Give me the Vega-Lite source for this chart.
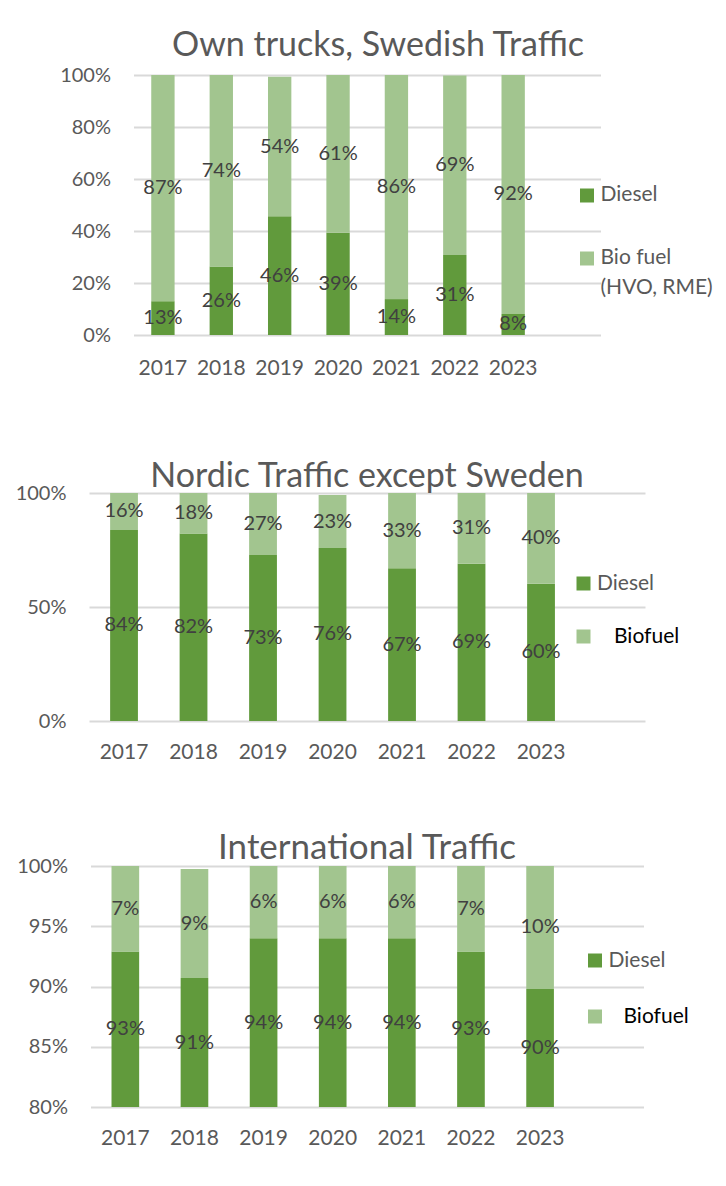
{
  "$schema": "https://vega.github.io/schema/vega-lite/v6.json",
  "background": "white",
  "padding": {"left": 15, "top": 29, "right": 5, "bottom": 5},
  "config": {
    "font": "Lato",
    "view": {"stroke": null},
    "title": {"fontSize": 34, "fontWeight": "normal", "color": "#595959", "font": "Lato", "anchor": "middle"},
    "axis": {"labelFont": "Lato", "labelFontSize": 20, "labelColor": "#595959", "domain": false, "ticks": false, "title": null},
    "axisY": {"grid": true, "gridColor": "#D9D9D9", "gridWidth": 2, "labelPadding": 23, "format": ".0%"},
    "axisX": {"grid": false, "labelAngle": 0, "labelPadding": 20, "labelFontSize": 21},
    "legend": {"title": null, "orient": "none", "symbolType": "square", "symbolSize": 196, "symbolStrokeWidth": 0, "labelFont": "Lato", "labelFontSize": 21, "labelColor": "#595959", "labelOffset": 3}
  },
  "resolve": {"scale": {"color": "independent", "y": "independent", "x": "independent"}, "legend": {"color": "independent"}},
  "datasets": {
    "fuel": [
      {"panel": "swe", "year": "2017", "fuel": "Diesel", "share": 0.13},
      {"panel": "swe", "year": "2017", "fuel": "Bio fuel (HVO, RME)", "share": 0.87},
      {"panel": "swe", "year": "2018", "fuel": "Diesel", "share": 0.263},
      {"panel": "swe", "year": "2018", "fuel": "Bio fuel (HVO, RME)", "share": 0.737},
      {"panel": "swe", "year": "2019", "fuel": "Diesel", "share": 0.457},
      {"panel": "swe", "year": "2019", "fuel": "Bio fuel (HVO, RME)", "share": 0.536},
      {"panel": "swe", "year": "2020", "fuel": "Diesel", "share": 0.393},
      {"panel": "swe", "year": "2020", "fuel": "Bio fuel (HVO, RME)", "share": 0.607},
      {"panel": "swe", "year": "2021", "fuel": "Diesel", "share": 0.138},
      {"panel": "swe", "year": "2021", "fuel": "Bio fuel (HVO, RME)", "share": 0.862},
      {"panel": "swe", "year": "2022", "fuel": "Diesel", "share": 0.308},
      {"panel": "swe", "year": "2022", "fuel": "Bio fuel (HVO, RME)", "share": 0.69},
      {"panel": "swe", "year": "2023", "fuel": "Diesel", "share": 0.081},
      {"panel": "swe", "year": "2023", "fuel": "Bio fuel (HVO, RME)", "share": 0.919},
      {"panel": "nordic", "year": "2017", "fuel": "Diesel", "share": 0.838},
      {"panel": "nordic", "year": "2017", "fuel": "Biofuel", "share": 0.162},
      {"panel": "nordic", "year": "2018", "fuel": "Diesel", "share": 0.822},
      {"panel": "nordic", "year": "2018", "fuel": "Biofuel", "share": 0.178},
      {"panel": "nordic", "year": "2019", "fuel": "Diesel", "share": 0.728},
      {"panel": "nordic", "year": "2019", "fuel": "Biofuel", "share": 0.272},
      {"panel": "nordic", "year": "2020", "fuel": "Diesel", "share": 0.759},
      {"panel": "nordic", "year": "2020", "fuel": "Biofuel", "share": 0.232},
      {"panel": "nordic", "year": "2021", "fuel": "Diesel", "share": 0.67},
      {"panel": "nordic", "year": "2021", "fuel": "Biofuel", "share": 0.33},
      {"panel": "nordic", "year": "2022", "fuel": "Diesel", "share": 0.69},
      {"panel": "nordic", "year": "2022", "fuel": "Biofuel", "share": 0.31},
      {"panel": "nordic", "year": "2023", "fuel": "Diesel", "share": 0.602},
      {"panel": "nordic", "year": "2023", "fuel": "Biofuel", "share": 0.398},
      {"panel": "intl", "year": "2017", "fuel": "Diesel", "share": 0.929},
      {"panel": "intl", "year": "2017", "fuel": "Biofuel", "share": 0.071},
      {"panel": "intl", "year": "2018", "fuel": "Diesel", "share": 0.907},
      {"panel": "intl", "year": "2018", "fuel": "Biofuel", "share": 0.0905},
      {"panel": "intl", "year": "2019", "fuel": "Diesel", "share": 0.94},
      {"panel": "intl", "year": "2019", "fuel": "Biofuel", "share": 0.06},
      {"panel": "intl", "year": "2020", "fuel": "Diesel", "share": 0.94},
      {"panel": "intl", "year": "2020", "fuel": "Biofuel", "share": 0.06},
      {"panel": "intl", "year": "2021", "fuel": "Diesel", "share": 0.94},
      {"panel": "intl", "year": "2021", "fuel": "Biofuel", "share": 0.06},
      {"panel": "intl", "year": "2022", "fuel": "Diesel", "share": 0.929},
      {"panel": "intl", "year": "2022", "fuel": "Biofuel", "share": 0.071},
      {"panel": "intl", "year": "2023", "fuel": "Diesel", "share": 0.898},
      {"panel": "intl", "year": "2023", "fuel": "Biofuel", "share": 0.102}
    ]
  },
  "bounds": "flush",
  "center": true,
  "spacing": 145,
  "vconcat": [
    {
      "title": {"text": "Own trucks, Swedish Traffic", "dx": 11, "offset": 2},
      "width": 467,
      "height": 273,
      "data": {"name": "fuel"},
      "transform": [
        {"filter": "datum.panel == 'swe'"},
        {"stack": "share", "groupby": ["year"], "sort": [{"field": "fuel", "order": "descending"}], "as": ["lo", "hi"]},
        {"calculate": "(datum.lo + datum.hi) / 2", "as": "mid"}
      ],
      "encoding": {
        "x": {"field": "year", "type": "ordinal", "scale": {"paddingInner": 0.6, "paddingOuter": 0.8, "align": 0.19}, "axis": {"labelPadding": 9}}
      },
      "layer": [
        {
          "mark": {"type": "bar"},
          "encoding": {
            "y": {"field": "lo", "type": "quantitative", "scale": {"domain": [-0.05, 1], "nice": false, "zero": false}, "axis": {"values": [0, 0.2, 0.4, 0.6, 0.8, 1]}},
            "y2": {"field": "hi"},
            "color": {
              "field": "fuel", "type": "nominal",
              "scale": {"domain": ["Diesel", "Bio fuel (HVO, RME)"], "range": ["#619A3C", "#A2C58F"]},
              "legend": {
                "legendX": 443, "legendY": 110, "rowPadding": 41,
                "labelExpr": "datum.label == 'Bio fuel (HVO, RME)' ? ['Bio fuel', '(HVO, RME)'] : datum.label",
                "labelBaseline": "top",
                "encode": {"labels": {"update": {"dy": {"value": -12}, "lineHeight": {"value": 30}}}}
              }
            }
          }
        },
        {
          "mark": {"type": "text", "fontSize": 20, "color": "#404040", "baseline": "middle", "align": "center"},
          "encoding": {
            "y": {"field": "mid", "type": "quantitative"},
            "text": {"field": "share", "type": "quantitative", "format": ".0%"}
          }
        }
      ]
    },
    {
      "title": {"text": "Nordic Traffic except Sweden", "offset": -11},
      "width": 556,
      "height": 228,
      "data": {"name": "fuel"},
      "transform": [
        {"filter": "datum.panel == 'nordic'"},
        {"stack": "share", "groupby": ["year"], "sort": [{"field": "fuel", "order": "descending"}], "as": ["lo", "hi"]},
        {"calculate": "(datum.lo + datum.hi) / 2", "as": "mid"}
      ],
      "encoding": {
        "x": {"field": "year", "type": "ordinal", "scale": {"paddingInner": 0.6, "paddingOuter": 0.8, "align": 0.19}}
      },
      "layer": [
        {
          "mark": {"type": "bar"},
          "encoding": {
            "y": {"field": "lo", "type": "quantitative", "scale": {"domain": [0, 1]}, "axis": {"values": [0, 0.5, 1]}},
            "y2": {"field": "hi"},
            "color": {
              "field": "fuel", "type": "nominal",
              "scale": {"domain": ["Diesel", "Biofuel"], "range": ["#619A3C", "#A2C58F"]},
              "legend": {
                "legendX": 484, "legendY": 80, "rowPadding": 31,
                "encode": {"labels": {"update": {
                  "fill": {"signal": "datum.label == 'Biofuel' ? '#000000' : '#595959'"},
                  "dx": {"signal": "datum.label == 'Biofuel' ? 17 : 0"}
                }}}
              }
            }
          }
        },
        {
          "mark": {"type": "text", "fontSize": 20, "color": "#404040", "baseline": "middle", "align": "center"},
          "encoding": {
            "y": {"field": "mid", "type": "quantitative"},
            "text": {"field": "share", "type": "quantitative", "format": ".0%"}
          }
        }
      ]
    },
    {
      "title": {"text": "International Traffic", "offset": -10, "fontSize": 35},
      "width": 553,
      "height": 241,
      "data": {"name": "fuel"},
      "transform": [
        {"filter": "datum.panel == 'intl'"},
        {"stack": "share", "groupby": ["year"], "sort": [{"field": "fuel", "order": "descending"}], "as": ["lo", "hi"]},
        {"calculate": "(max(datum.lo, 0.8) + datum.hi) / 2", "as": "mid"}
      ],
      "encoding": {
        "x": {"field": "year", "type": "ordinal", "scale": {"paddingInner": 0.6, "paddingOuter": 0.8, "align": 0.19}}
      },
      "layer": [
        {
          "mark": {"type": "bar", "clip": true},
          "encoding": {
            "y": {"field": "lo", "type": "quantitative", "scale": {"domain": [0.8, 1]}, "axis": {"values": [0.8, 0.85, 0.9, 0.95, 1]}},
            "y2": {"field": "hi"},
            "color": {
              "field": "fuel", "type": "nominal",
              "scale": {"domain": ["Diesel", "Biofuel"], "range": ["#619A3C", "#A2C58F"]},
              "legend": {
                "legendX": 494, "legendY": 84, "rowPadding": 34,
                "encode": {"labels": {"update": {
                  "fill": {"signal": "datum.label == 'Biofuel' ? '#000000' : '#595959'"},
                  "dx": {"signal": "datum.label == 'Biofuel' ? 15 : 0"}
                }}}
              }
            }
          }
        },
        {
          "mark": {"type": "text", "fontSize": 20, "color": "#404040", "baseline": "middle", "align": "center"},
          "encoding": {
            "y": {"field": "mid", "type": "quantitative", "scale": {"domain": [0.8, 1]}},
            "text": {"field": "share", "type": "quantitative", "format": ".0%"}
          }
        }
      ]
    }
  ]
}
